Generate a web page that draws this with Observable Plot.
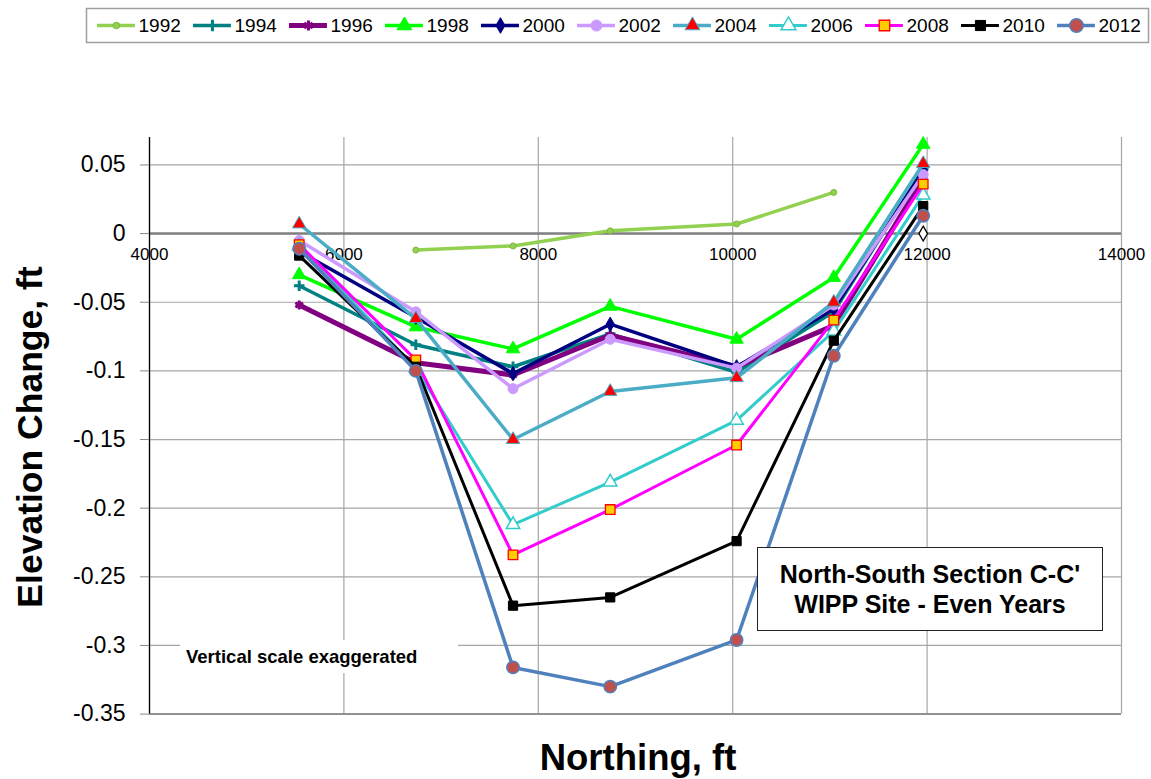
<!DOCTYPE html>
<html><head><meta charset="utf-8">
<script src="https://cdn.jsdelivr.net/npm/d3@7"></script>
<script src="https://cdn.jsdelivr.net/npm/@observablehq/plot@0.6"></script>
<style>
body{margin:0;background:#fff;font-family:Arial,"Liberation Sans",sans-serif;}
#wrap{position:relative;width:1151px;height:779px;overflow:hidden;background:#fff;}
#legend{position:absolute;left:0;top:0;}
#chart{position:absolute;left:0;top:50px;}
.ytitle{position:absolute;left:30px;top:437px;transform:translate(-50%,-50%) rotate(-90deg);font-weight:bold;font-size:35.5px;white-space:nowrap;}
.xtitle{position:absolute;left:638px;top:758px;transform:translate(-50%,-50%);font-weight:bold;font-size:36.5px;white-space:nowrap;}
.titlebox{position:absolute;left:757px;top:547px;width:346px;height:84px;box-sizing:border-box;border:1.5px solid #222;background:#fff;display:flex;flex-direction:column;justify-content:center;align-items:center;font-weight:bold;font-size:25px;line-height:30px;}
.note{position:absolute;left:180px;top:640px;width:278px;height:33px;background:#fff;font-weight:bold;font-size:18.5px;line-height:33px;padding-left:6px;box-sizing:border-box;white-space:nowrap;}
</style></head>
<body>
<div id="wrap">
  <div id="legend"></div>
  <div id="chart"></div>
  <div class="ytitle">Elevation Change, ft</div>
  <div class="xtitle">Northing, ft</div>
  <div class="note">Vertical scale exaggerated</div>
  <div class="titlebox"><div>North-South Section C-C'</div><div>WIPP Site - Even Years</div></div>
</div>
<script>
// ---- data ----
const northing = [5540, 6740, 7740, 8740, 10040, 11040, 11960];
const years = ["1992","1994","1996","1998","2000","2002","2004","2006","2008","2010","2012"];
const v1992 = [null, -0.012, -0.009, 0.002, 0.007, 0.030, null];
const v1994 = [-0.038, -0.081, -0.097, -0.073, -0.101, -0.057, 0.047];
const v1996 = [-0.052, -0.094, -0.103, -0.074, -0.097, -0.067, 0.040];
const v1998 = [-0.030, -0.068, -0.084, -0.053, -0.077, -0.032, 0.065];
const v2000 = [-0.013, -0.061, -0.102, -0.066, -0.097, -0.055, 0.046];
const v2002 = [-0.005, -0.057, -0.113, -0.077, -0.098, -0.052, 0.043];
const v2004 = [0.007, -0.062, -0.150, -0.115, -0.105, -0.050, 0.051];
const v2006 = [-0.009, -0.098, -0.212, -0.181, -0.136, -0.071, 0.028];
const v2008 = [-0.008, -0.092, -0.234, -0.201, -0.154, -0.063, 0.036];
const v2010 = [-0.016, -0.097, -0.271, -0.265, -0.224, -0.078, 0.020];
const v2012 = [-0.011, -0.100, -0.316, -0.330, -0.296, -0.089, 0.013];
const extraX = [11960];
const extraY = [0.000];
const xTicks = [4000, 6000, 8000, 10000, 12000, 14000];
const yTicks = [0.05, 0, -0.05, -0.1, -0.15, -0.2, -0.25, -0.3, -0.35];

// ---- styles ----
const styles = {
  "1992": {line:"#92D050", w:3.5, symbol:"circle", r:3, fill:"#92D050", stroke:"#7fb83f", sw:1},
  "1994": {line:"#008080", w:3.5, symbol:"plus", r:3.5, fill:"none", stroke:"#008080", sw:3},
  "1996": {line:"#800080", w:5, symbol:"asterisk", r:4.2, fill:"none", stroke:"#800080", sw:3},
  "1998": {line:"#00FF00", w:3.5, symbol:"triangle", r:5, fill:"#00FF00", stroke:"#00FF00", sw:1},
  "2000": {line:"#000080", w:3.5, symbol:"diamond", r:4.3, fill:"#000080", stroke:"#000080", sw:1},
  "2002": {line:"#CC99FF", w:3.5, symbol:"circle", r:5, fill:"#CC99FF", stroke:"#CC99FF", sw:1},
  "2004": {line:"#4BACC6", w:3.5, symbol:"triangle", r:5, fill:"#FF0000", stroke:"#4BACC6", sw:1},
  "2006": {line:"#33CCCC", w:3, symbol:"triangle", r:5, fill:"#ffffff", stroke:"#33CCCC", sw:1.5},
  "2008": {line:"#FF00FF", w:3, symbol:"square", r:5.4, fill:"#FFCC00", stroke:"#FF0000", sw:1.3},
  "2010": {line:"#000000", w:3, symbol:"square", r:5.2, fill:"#000000", stroke:"#000000", sw:1},
  "2012": {line:"#4F81BD", w:3.5, symbol:"circle", r:6.2, fill:"#C0504D", stroke:"#4F81BD", sw:1.5}
};
const valuesByYear = {"1992":v1992,"1994":v1994,"1996":v1996,"1998":v1998,"2000":v2000,"2002":v2002,
  "2004":v2004,"2006":v2006,"2008":v2008,"2010":v2010,"2012":v2012};

const rows = years.flatMap(yr => northing.map((x, j) => ({year: yr, x, y: valuesByYear[yr][j]})));
const extra = extraX.map((x, i) => ({x, y: extraY[i]}));
const FONT = "Arial, 'Liberation Sans', sans-serif";

const seriesMarks = years.flatMap(yr => {
  const s = styles[yr];
  const d = rows.filter(r => r.year === yr);
  const pts = d.filter(r => r.y != null);
  return [
    Plot.line(d, {x: "x", y: "y", stroke: s.line, strokeWidth: s.w, strokeLinejoin: "round", strokeLinecap: "round"}),
    Plot.dot(pts, {x: "x", y: "y", symbol: s.symbol, r: s.r, fill: s.fill, stroke: s.stroke, strokeWidth: s.sw})
  ];
});

const chart = Plot.plot({
  width: 1151, height: 729,
  marginLeft: 149, marginRight: 30, marginTop: 87, marginBottom: 65.4,
  x: {type: "linear", domain: [4000, 14000], axis: null},
  y: {type: "linear", domain: [-0.35, 0.07], axis: null},
  style: {fontFamily: FONT, background: "transparent", overflow: "visible"},
  marks: [
    Plot.gridX(xTicks, {stroke: "#a6a6a6", strokeOpacity: 1, strokeWidth: 1.2}),
    Plot.gridY(yTicks, {stroke: "#a6a6a6", strokeOpacity: 1, strokeWidth: 1.2}),
    Plot.ruleY([0], {stroke: "#808080", strokeWidth: 2.5}),
    Plot.ruleY([-0.35], {stroke: "#808080", strokeWidth: 1.5}),
    Plot.ruleX([4000], {stroke: "#000", strokeWidth: 1.3}),
    Plot.axisY(yTicks, {tickSize: 9, tickPadding: 15, fontSize: 23, stroke: "#888", fill: "#000",
      tickFormat: d => d === 0 ? "0" : String(d), label: null}),
    Plot.text(xTicks, {x: d => d, y: 0, dy: 21, fontSize: 17, fill: "#000", text: d => String(d)}),
    ...seriesMarks,
    Plot.dot(extra, {x: "x", y: "y", symbol: "diamond", r: 4.5, fill: "#fff", stroke: "#000", strokeWidth: 1.3})
  ]
});
document.getElementById("chart").appendChild(chart);

// ---- legend (its own small Plot) ----
const legRows = years.map((yr, i) => ({year: yr, i}));
const legMarks = years.flatMap((yr, i) => {
  const s = styles[yr];
  const r = [legRows[i]];
  return [
    Plot.ruleY(r, {y: () => 0.5, x1: d => d.i, x2: d => d.i + 0.395, stroke: s.line, strokeWidth: s.w}),
    Plot.dot(r, {x: d => d.i + 0.1975, y: () => 0.5, symbol: s.symbol, r: s.r * 1.1, fill: s.fill, stroke: s.stroke, strokeWidth: s.sw})
  ];
});
const legend = Plot.plot({
  width: 1151, height: 50,
  marginLeft: 86, marginRight: 3, marginTop: 8, marginBottom: 8,
  x: {type: "linear", domain: [0, 1], range: [97, 193], axis: null},
  y: {type: "linear", domain: [0, 1], axis: null},
  style: {fontFamily: FONT, background: "transparent", overflow: "visible"},
  marks: [
    Plot.frame({stroke: "#a0a0a0", strokeWidth: 1.5}),
    ...legMarks,
    Plot.text(legRows, {x: d => d.i + 0.427, y: () => 0.5, text: "year", textAnchor: "start", fontSize: 19, fill: "#000"})
  ]
});
document.getElementById("legend").appendChild(legend);
</script>
</body></html>
